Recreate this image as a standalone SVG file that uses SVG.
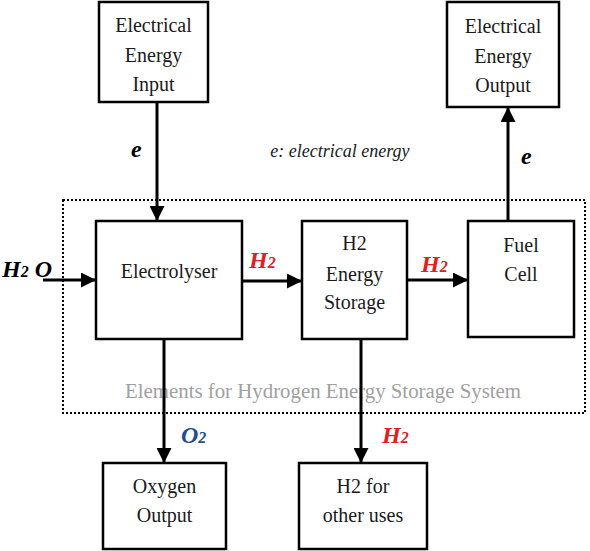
<svg xmlns="http://www.w3.org/2000/svg" width="590" height="551" viewBox="0 0 590 551">
<style>
.box{fill:#fff;stroke:#000;stroke-width:2.5}
.ln{stroke:#000;stroke-width:3;fill:none}
</style>
<defs>
<marker id="ah" viewBox="0 0 10 10" refX="10" refY="5" markerWidth="5" markerHeight="5" markerUnits="strokeWidth" orient="auto">
<path d="M0,0 L10,5 L0,10 Z" fill="#000"/>
</marker>
</defs>
<rect x="63" y="200" width="522" height="213" fill="none" stroke="#000" stroke-width="2" stroke-dasharray="2,2"/>
<text x="323" y="398" font-family="Liberation Serif, serif" font-size="20" fill="#a0a0a0" text-anchor="middle" textLength="396" lengthAdjust="spacingAndGlyphs">Elements for Hydrogen Energy Storage System</text>
<g id="connectors">
<line class="ln" x1="157" y1="102" x2="157" y2="221" marker-end="url(#ah)"/>
<line class="ln" x1="43" y1="280" x2="96" y2="280" marker-end="url(#ah)"/>
<line class="ln" x1="242" y1="281" x2="302" y2="281" marker-end="url(#ah)"/>
<line class="ln" x1="407" y1="280" x2="468" y2="280" marker-end="url(#ah)"/>
<line class="ln" x1="508" y1="221" x2="508" y2="107" marker-end="url(#ah)"/>
<line class="ln" x1="164" y1="339" x2="164" y2="463" marker-end="url(#ah)"/>
<line class="ln" x1="361" y1="339" x2="361" y2="463" marker-end="url(#ah)"/>
</g>
<g font-family="Liberation Serif, serif" font-size="20" fill="#1a1a1a" text-anchor="middle">
<g id="n-input"><rect class="box" x="99" y="2" width="109" height="100"/>
<text x="153.5" y="32">Electrical</text><text x="153.5" y="62">Energy</text><text x="153.5" y="91">Input</text></g>
<g id="n-output"><rect class="box" x="447" y="2" width="112" height="105"/>
<text x="503" y="33">Electrical</text><text x="503" y="63">Energy</text><text x="503" y="92">Output</text></g>
<g id="n-electrolyser"><rect class="box" x="96" y="221" width="146" height="118"/>
<text x="169" y="278">Electrolyser</text></g>
<g id="n-storage"><rect class="box" x="302" y="221" width="105" height="118"/>
<text x="354.5" y="250">H2</text><text x="354.5" y="281">Energy</text><text x="354.5" y="309">Storage</text></g>
<g id="n-fuelcell"><rect class="box" x="468" y="221" width="106" height="116"/>
<text x="521" y="252">Fuel</text><text x="521" y="281">Cell</text></g>
<g id="n-oxygen"><rect class="box" x="103" y="463" width="123" height="86"/>
<text x="164.5" y="493">Oxygen</text><text x="164.5" y="522">Output</text></g>
<g id="n-h2other"><rect class="box" x="299" y="463" width="128" height="86"/>
<text x="363" y="493">H2 for</text><text x="363" y="522">other uses</text></g>
</g>
<g id="labels" font-family="Liberation Serif, serif" font-weight="bold" font-style="italic" font-size="24">
<text x="131" y="157" fill="#000">e</text>
<text x="340" y="157" font-weight="normal" font-size="18" fill="#1a1a1a" text-anchor="middle">e: electrical energy</text>
<text x="521" y="164" fill="#000">e</text>
<text x="2" y="277" fill="#000">H<tspan font-size="16">2</tspan> O</text>
<text x="249" y="268" fill="#e02020">H<tspan font-size="16">2</tspan></text>
<text x="421" y="272" fill="#e02020">H<tspan font-size="16">2</tspan></text>
<text x="181" y="443" fill="#1f4e8c">O<tspan font-size="16">2</tspan></text>
<text x="382" y="443" fill="#e02020">H<tspan font-size="16">2</tspan></text>
</g>
</svg>
